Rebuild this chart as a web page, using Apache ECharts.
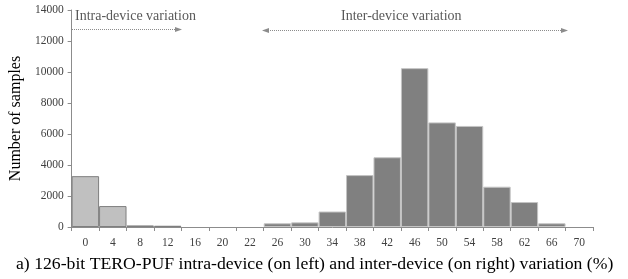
<!DOCTYPE html>
<html>
<head>
<meta charset="utf-8">
<title>tero-puf</title>
<style>html,body{margin:0;padding:0;background:#fff}#chart{width:628px;height:279px}</style>
</head>
<body>
<div id="chart"></div>
<script src="https://cdn.jsdelivr.net/npm/echarts@6/dist/echarts.min.js"></script>
<script>
const categories = ['0', '4', '8', '12', '16', '20', '22', '26', '30', '34', '38', '42', '46', '50', '54', '58', '62', '66', '70'];
const intraValues = [3280, 1350, 100, 80, '-', '-', '-', '-', '-', '-', '-', '-', '-', '-', '-', '-', '-', '-', '-'];
const interValues = ['-', '-', '-', '-', '-', '-', '-', 240, 300, 1000, 3350, 4500, 10250, 6750, 6520, 2600, 1610, 240, '-'];
const yTicks = { min: 0, max: 14000, interval: 2000 };

const serif = '"Liberation Serif", "DejaVu Serif", serif';
const axisGray = '#8c8c8c';
const chart = echarts.init(document.getElementById('chart'));

chart.setOption({
    animation: false,
    grid: { left: 71, right: 35, top: 10, bottom: 52 },
    xAxis: {
        type: 'category',
        data: categories,
        axisLine: { lineStyle: { color: axisGray, width: 1 } },
        axisTick: { show: true, length: 4, lineStyle: { color: axisGray } },
        axisLabel: { color: '#404040', fontFamily: serif, fontSize: 11.5, margin: 10 }
    },
    yAxis: {
        type: 'value',
        min: yTicks.min, max: yTicks.max, interval: yTicks.interval,
        name: 'Number of samples',
        nameLocation: 'middle',
        nameGap: 33,
        nameTextStyle: { fontFamily: serif, fontSize: 16, color: '#000' },
        axisLine: { show: true, lineStyle: { color: axisGray } },
        axisTick: { show: true, length: 4, lineStyle: { color: axisGray } },
        splitLine: { show: false },
        axisLabel: { color: '#404040', fontFamily: serif, fontSize: 11.5, margin: 8, formatter: v => String(v) }
    },
    series: [
        {
            type: 'bar', data: intraValues,
            barCategoryGap: 0, barGap: '-100%',
            itemStyle: { color: '#c0c0c0', borderColor: '#7f7f7f', borderWidth: 1 }
        },
        {
            type: 'bar', data: interValues,
            barCategoryGap: 0, barGap: '-100%',
            itemStyle: { color: '#808080', borderColor: '#c4c4c4', borderWidth: 1 }
        }
    ],
    graphic: [
        { type: 'text', left: 75, top: 9, style: { text: 'Intra-device variation', font: '14px ' + serif, fill: '#595959' } },
        { type: 'text', left: 341, top: 9, style: { text: 'Inter-device variation', font: '14px ' + serif, fill: '#595959' } },
        { type: 'line', shape: { x1: 72, y1: 29.5, x2: 176, y2: 29.5 }, style: { stroke: '#8c8c8c', lineWidth: 1, lineDash: [1, 1] } },
        { type: 'polygon', shape: { points: [[175, 27], [182, 29.5], [175, 32]] }, style: { fill: '#8c8c8c' } },
        { type: 'line', shape: { x1: 268, y1: 30.5, x2: 562, y2: 30.5 }, style: { stroke: '#8c8c8c', lineWidth: 1, lineDash: [1, 1] } },
        { type: 'polygon', shape: { points: [[269, 28], [262, 30.5], [269, 33]] }, style: { fill: '#8c8c8c' } },
        { type: 'polygon', shape: { points: [[561, 28], [568, 30.5], [561, 33]] }, style: { fill: '#8c8c8c' } },
        { type: 'text', left: 16, top: 255, style: { text: 'a) 126-bit TERO-PUF intra-device (on left) and inter-device (on right) variation (%)', font: '17.7px ' + serif, fill: '#000' } }
    ]
});
</script>
</body>
</html>
